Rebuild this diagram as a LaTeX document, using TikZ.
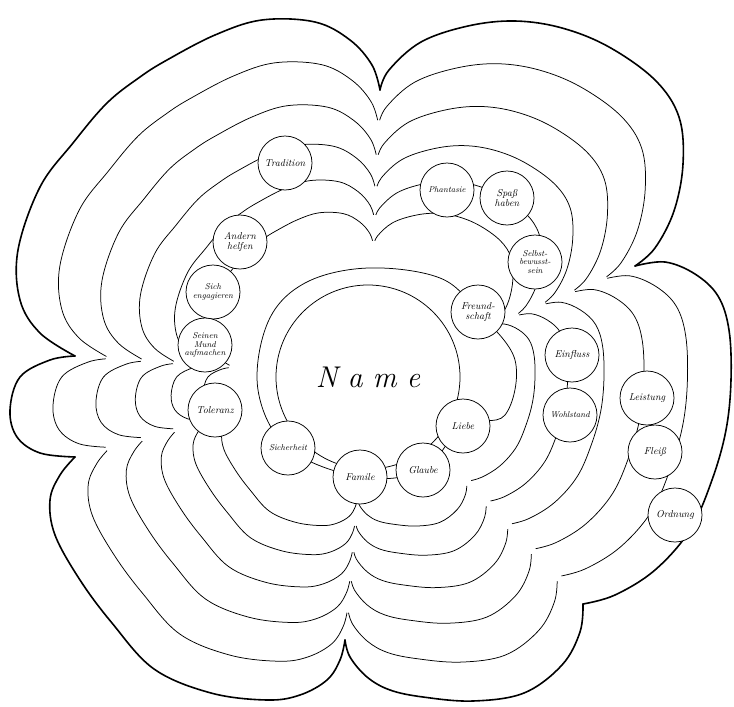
\documentclass[tikz,border=0pt]{standalone}
\usepackage{tikz}
\usetikzlibrary{calc}
\tikzset{
  outerline/.style={line width=1.6pt, line join=round, line cap=round},
  innerline/.style={line width=0.75pt, line cap=round},
  ringline/.style={line width=0.75pt},
  gapdot/.style={fill=white},
  bubble/.style={circle, draw, fill=white, line width=0.75pt, minimum size=54pt, inner sep=0pt, align=center, font=\fontsize{10}{10}\selectfont\itshape},
  smalltext/.style={font=\fontsize{8.5}{8.5}\selectfont\itshape},
}
\newcommand\drawlobes[1]{%
  \draw[#1] plot[smooth,tension=.6] coordinates {(380,90) (389,70) (421,42) (468,26) (515,21) (562,28) (609,47) (655,80) (679,117) (683,164) (674,211) (655,248) (635,266)};
  \draw[#1] plot[smooth,tension=.6] coordinates {(635,266) (665,262) (695,274) (718,296) (729,330) (731,380) (726,430) (712,480) (690,530) (655,570) (615,595) (583,604)};
  \draw[#1] plot[smooth,tension=.6] coordinates {(583,604) (580,632) (562,665) (524,693) (473,701) (423,697) (390,690) (367,677) (350,657) (345,640)};
  \draw[#1] plot[smooth,tension=.6] coordinates {(345,640) (340,660) (327,680) (300,695) (267,700) (211,693) (154,669) (112,623) (80,580) (55,535) (50,500) (60,475) (75,457)};
  \draw[#1] plot[smooth,tension=.6] coordinates {(75,457) (40,453) (17,437) (10,410) (20,377) (50,360) (75,356)};
  \draw[#1] plot[smooth,tension=.6] coordinates {(75,356) (40,333) (20,300) (18,250) (40,187) (73,143) (107,103) (140,77) (167,60) (215,35) (262,20) (315,22) (350,40) (372,65) (380,90)};
}
\begin{document}
\begin{tikzpicture}[x=1pt,y=-1pt]
\useasboundingbox (0,0) rectangle (734,707);
\fill[white] (0,0) rectangle (734,707);
\coordinate (c) at (368,377);
% outer contour
\drawlobes{outerline}
% inner layers
\foreach \s in {0.88,0.76,0.65,0.55,0.46}{
  \begin{scope}[shift={(368,377)},scale=\s,shift={(-368,-377)}]
    \drawlobes{innerline}
  \end{scope}
  \foreach \px/\py in {380/90,635/266,583/604,345/640,75/457,75/356}{
    \fill[gapdot] ($(c)!\s!(\px,\py)$) circle[radius=4.5pt];
  }
}
% innermost ring around the centre
\draw[ringline] plot[smooth cycle,tension=.6] coordinates {(368,268) (440,278) (478,312) (515,360) (505,415) (463,425) (423,470) (360,477) (288,448) (258,390) (268,322) (305,283)};
% centre
\node[circle, draw, fill=white, line width=0.75pt, minimum size=184pt, inner sep=0pt, font=\fontsize{30}{32}\selectfont\itshape] (name) at (368,377) {N\,\,a\,\,m\,\,e};
% bubbles
\node[bubble] (tradition) at (285,163) {Tradition};
\node[bubble] (andern) at (240,242) {Andern\\helfen};
\node[bubble, smalltext] (sich) at (213,292) {Sich\\engagieren};
\node[bubble, smalltext] (mund) at (205,345) {Seinen\\Mund\\aufmachen};
\node[bubble] (toleranz) at (215,410) {Toleranz};
\node[bubble, smalltext] (phantasie) at (447,190) {Phantasie};
\node[bubble] (spass) at (507,198) {Spaß\\haben};
\node[bubble, smalltext] (selbst) at (535,262) {Selbst-\\bewusst-\\sein};
\node[bubble] (freund) at (478,312) {Freund-\\schaft};
\node[bubble] (einfluss) at (572,355) {Einfluss};
\node[bubble, smalltext] (wohlstand) at (570,415) {Wohlstand};
\node[bubble] (liebe) at (463,426) {Liebe};
\node[bubble] (glaube) at (423,470) {Glaube};
\node[bubble] (famile) at (360,477) {Famile};
\node[bubble, smalltext] (sicherheit) at (288,448) {Sicherheit};
\node[bubble] (leistung) at (647,398) {Leistung};
\node[bubble] (fleiss) at (655,452) {Fleiß};
\node[bubble] (ordnung) at (675,515) {Ordnung};
\end{tikzpicture}
\end{document}
